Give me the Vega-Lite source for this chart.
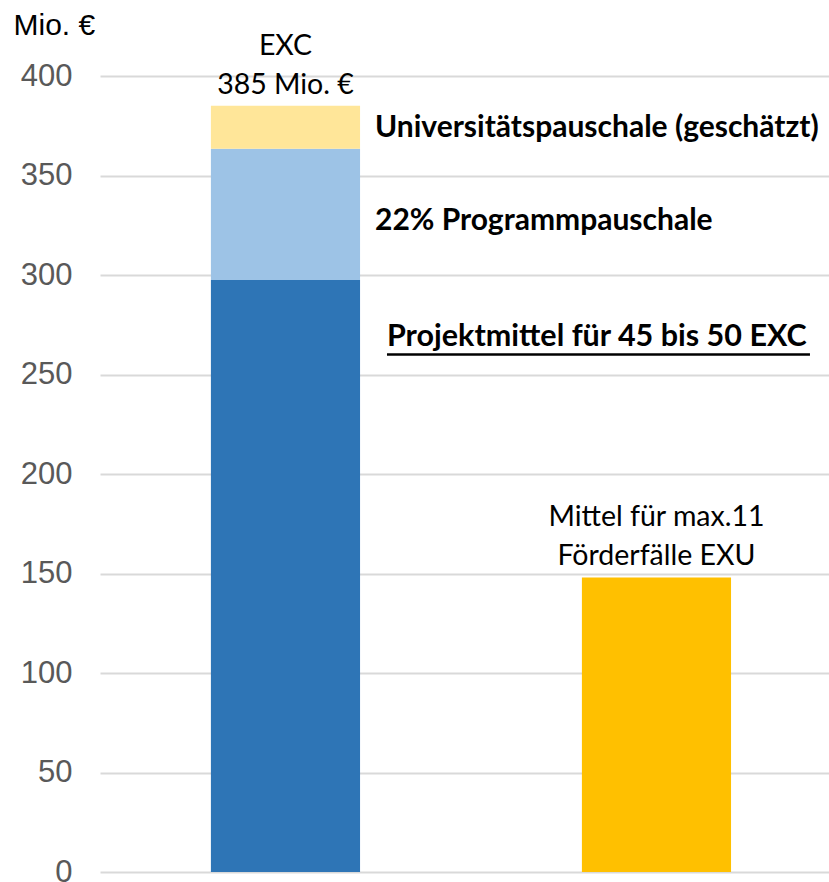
{
  "$schema": "https://vega.github.io/schema/vega-lite/v6.json",
  "width": 729,
  "height": 796,
  "autosize": {"type": "none"},
  "padding": {"left": 100, "top": 76, "right": 0, "bottom": 10},
  "background": "white",
  "config": {
    "view": {"stroke": null},
    "font": "Lato"
  },
  "datasets": {
    "bars": [
      {"cat": "EXC", "part": "Projektmittel", "v": 297.5},
      {"cat": "EXC", "part": "Programmpauschale", "v": 66},
      {"cat": "EXC", "part": "Universitätspauschale", "v": 21.5},
      {"cat": "EXU", "part": "EXU", "v": 148}
    ],
    "tops": [
      {"cat": "EXC", "total": 385, "label": ["EXC", "385 Mio. €"]},
      {"cat": "EXU", "total": 148, "label": ["Mittel für max.11", "Förderfälle EXU"]}
    ],
    "side": [
      {"cat": "EXC", "y": 374, "label": "Universitätspauschale (geschätzt)"},
      {"cat": "EXC", "y": 327, "label": "22% Programmpauschale"}
    ],
    "under": [
      {"cat": "EXC", "cat2": "EXU", "y": 269, "uy": 260, "label": "Projektmittel für 45 bis 50 EXC"}
    ]
  },
  "layer": [
    {
      "data": {"name": "bars"},
      "mark": {"type": "bar"},
      "encoding": {
        "x": {
          "field": "cat", "type": "nominal",
          "scale": {"domain": ["EXC", "EXU"], "paddingInner": 0.598, "paddingOuter": 0.2815, "align": 0.531},
          "axis": null
        },
        "y": {
          "field": "v", "type": "quantitative", "stack": "zero",
          "scale": {"domain": [0, 400], "nice": false},
          "axis": {
            "values": [0, 50, 100, 150, 200, 250, 300, 350, 400],
            "grid": true, "gridColor": "#d9d9d9", "gridWidth": 2,
            "domain": false, "ticks": false, "tickSize": 0,
            "labelPadding": 28, "labelFont": "Liberation Sans", "labelFontSize": 31, "labelColor": "#595959",
            "title": "Mio. €", "titleAngle": 0, "titleX": -87, "titleY": -42,
            "titleAlign": "left", "titleBaseline": "alphabetic",
            "titleFont": "Liberation Sans", "titleFontSize": 30, "titleFontWeight": "normal", "titleColor": "#000000"
          }
        },
        "order": {"field": "v", "type": "quantitative", "sort": "descending"},
        "color": {
          "field": "part", "type": "nominal",
          "scale": {
            "domain": ["Projektmittel", "Programmpauschale", "Universitätspauschale", "EXU"],
            "range": ["#2E75B6", "#9DC3E6", "#FFE699", "#FFC000"]
          },
          "legend": null
        }
      }
    },
    {
      "data": {"name": "tops"},
      "mark": {"type": "text", "baseline": "bottom", "align": "center", "fontSize": 28.5, "lineHeight": 39, "dy": -45, "color": "#000000"},
      "encoding": {
        "x": {"field": "cat", "type": "nominal"},
        "y": {"field": "total", "type": "quantitative"},
        "text": {"field": "label"}
      }
    },
    {
      "data": {"name": "side"},
      "mark": {"type": "text", "baseline": "middle", "align": "left", "fontSize": 30, "fontWeight": "bold", "dx": 89.5, "color": "#000000"},
      "encoding": {
        "x": {"field": "cat", "type": "nominal"},
        "y": {"field": "y", "type": "quantitative"},
        "text": {"field": "label"}
      }
    },
    {
      "data": {"name": "under"},
      "mark": {"type": "text", "baseline": "middle", "align": "left", "fontSize": 30.5, "fontWeight": "bold", "dx": 101.5, "color": "#000000"},
      "encoding": {
        "x": {"field": "cat", "type": "nominal"},
        "y": {"field": "y", "type": "quantitative"},
        "text": {"field": "label"}
      }
    },
    {
      "data": {"name": "under"},
      "mark": {"type": "rule", "color": "#000000", "strokeWidth": 2.5, "xOffset": 101.5, "x2Offset": 153.5},
      "encoding": {
        "x": {"field": "cat", "type": "nominal", "bandPosition": 0.5},
        "x2": {"field": "cat2"},
        "y": {"field": "uy", "type": "quantitative"}
      }
    }
  ]
}
